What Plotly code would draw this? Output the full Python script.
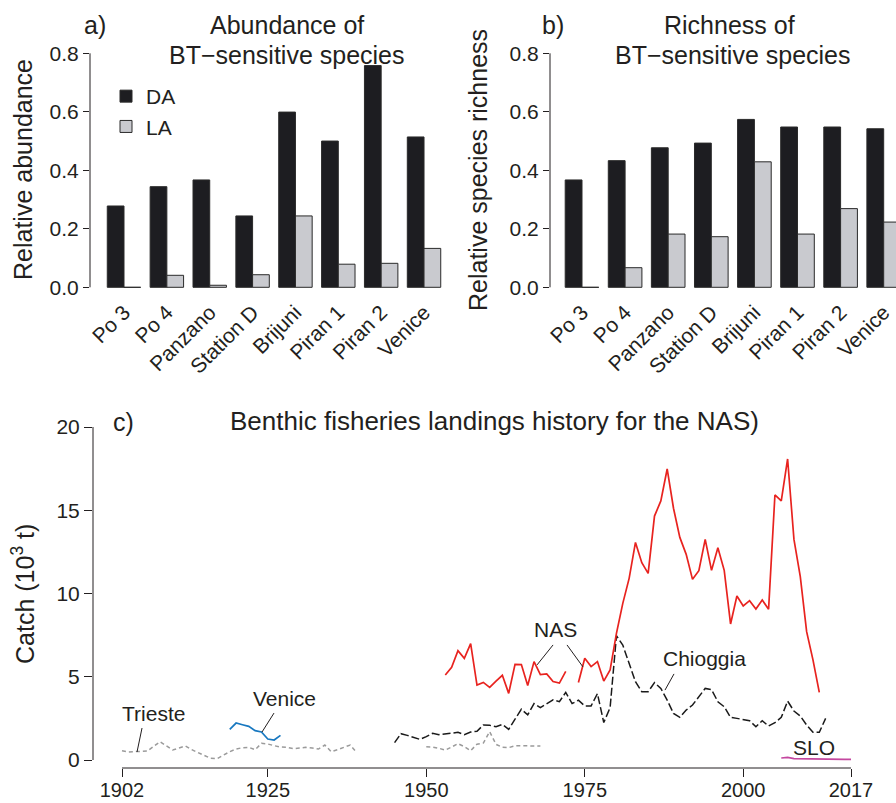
import plotly.graph_objects as go

# ---------------- data ----------------
sites = ["Po 3", "Po 4", "Panzano", "Station D", "Brijuni", "Piran 1", "Piran 2", "Venice"]
abund_DA = [0.278, 0.344, 0.367, 0.244, 0.599, 0.500, 0.758, 0.514]
abund_LA = [0.0, 0.041, 0.007, 0.043, 0.244, 0.079, 0.082, 0.133]
rich_DA = [0.367, 0.433, 0.477, 0.493, 0.574, 0.548, 0.548, 0.542]
rich_LA = [0.0, 0.067, 0.182, 0.173, 0.429, 0.182, 0.269, 0.223]

nas_years = list(range(1953, 2013))
nas_vals = [5.11, 5.57, 6.57, 6.11, 6.99, 4.50, 4.66, 4.36, 4.74, 5.09,
            4.00, 5.74, 5.73, 4.48, 5.91, 5.13, 5.17, 4.71, 4.62, 5.32,
            None, 4.65, 6.11, 5.61, 5.91, 4.74, 5.41,
            7.61, 9.41, 10.91, 13.07, 11.85, 11.21, 14.65, 15.56, 17.48, 15.12,
            13.37, 12.35, 10.85, 11.37, 13.25, 11.39, 12.75, 11.39, 8.17, 9.85,
            9.25, 9.57, 9.07, 9.61, 9.05, 15.92, 15.56, 18.08, 13.25, 11.01,
            7.71, 6.01, 4.06]

chi_years = list(range(1945, 2014))
chi_vals = [1.04, 1.58, 1.48, 1.35, 1.24, 1.40, 1.60, 1.52, 1.58, 1.62,
            1.66, 1.52, 1.68, 1.73, 2.10, 2.08, 2.00, 2.14, 1.84, 2.45,
            3.05, 2.71, 3.39, 3.15, 3.40, 3.61, 3.50, 4.06, 3.39, 3.59,
            3.25, 3.25, 3.99, 2.25, 3.15, 7.46,
            6.90, 5.80, 4.70, 4.10, 4.10, 4.65, 4.30, 3.60, 2.80, 2.56,
            3.00, 3.30, 3.80, 4.30, 4.22, 3.50, 3.20, 2.56, 2.50, 2.45,
            2.36, 2.00, 2.36, 2.04, 2.24, 2.56, 3.54, 2.94, 2.64, 2.10,
            1.66, 1.66, 2.50]

tri_years = list(range(1902, 1969))
tri_vals = [0.56, 0.48, 0.50, 0.52, 0.54, 0.82, 1.10, 0.85, 0.60, 0.72,
            0.84, 0.62, 0.46, 0.30, 0.10, 0.08, 0.30, 0.50, 0.66, 0.74,
            0.76, 0.62, 1.00, 0.96, 0.86, 0.78, 0.76, 0.68, 0.72, 0.76,
            0.72, 0.66, 0.90, 0.50, 0.62, 0.76, 0.90, 0.46,
            None, None, None, None, None, None, None, None, None, None,
            0.80, 0.78, 0.70, 0.60, 0.78, 0.98, 0.80, 0.56, 0.95, 1.02,
            1.70, 0.94, 0.76, 0.74, 0.86, 0.86, 0.84, 0.84, 0.84]

ven_years = list(range(1919, 1928))
ven_vals = [1.84, 2.22, 2.12, 2.02, 1.76, 1.68, 1.26, 1.20, 1.48]

slo_years = list(range(2006, 2018))
slo_vals = [0.12, 0.16, 0.08, 0.07, 0.07, 0.06, 0.06, 0.06, 0.05, 0.05, 0.04, 0.04]

xticks_c = [1902, 1925, 1950, 1975, 2000, 2017]
yticks_c = [0, 5, 10, 15, 20]
yticks_ab = [0.0, 0.2, 0.4, 0.6, 0.8]

labels_c = ["Trieste", "Venice", "NAS", "Chioggia", "SLO"]
label_x = [1906.94, 1927.59, 1970.43, 1993.84, 2011.13]
label_y = [2.80, 3.68, 7.85, 6.07, 0.78]
leaders = [((1905.16, 1.92), (1904.37, 0.48)),
           ((1925.98, 2.82), (1924.09, 1.68)),
           ((1970.0, 6.91), (1967.47, 5.71)),
           ((1972.2, 6.91), (1974.72, 5.59)),
           ((1989.08, 5.17), (1987.66, 4.20))]

# ---------------- style ----------------
W, H = 896, 803
FONT = "Liberation Sans, Arial, Helvetica, sans-serif"
TXT = "#231f20"
DA_COL = "#1d1d21"
LA_COL = "#c9cacf"
EDGE = "#2a2a2a"

def px(x):
    return x / W

def py(y):
    return 1 - y / H

fig = go.Figure()

for xa, ya, da, la, show in [("x", "y", abund_DA, abund_LA, True),
                             ("x2", "y2", rich_DA, rich_LA, False)]:
    fig.add_trace(go.Bar(x=sites, y=da, name="DA", xaxis=xa, yaxis=ya,
                         marker=dict(color=DA_COL, line=dict(color=EDGE, width=1)),
                         showlegend=show))
    fig.add_trace(go.Bar(x=sites, y=la, name="LA", xaxis=xa, yaxis=ya,
                         marker=dict(color=LA_COL, line=dict(color=EDGE, width=1)),
                         showlegend=show))

fig.add_trace(go.Scatter(x=tri_years, y=tri_vals, mode="lines", xaxis="x3", yaxis="y3",
                         line=dict(color="#9b9b9b", width=1.5, dash="4px,3px"), showlegend=False))
fig.add_trace(go.Scatter(x=ven_years, y=ven_vals, mode="lines", xaxis="x3", yaxis="y3",
                         line=dict(color="#1878c0", width=1.7), showlegend=False))
fig.add_trace(go.Scatter(x=chi_years, y=chi_vals, mode="lines", xaxis="x3", yaxis="y3",
                         line=dict(color="#1a1a1a", width=1.5, dash="8px,3px"), showlegend=False))
fig.add_trace(go.Scatter(x=nas_years, y=nas_vals, mode="lines", xaxis="x3", yaxis="y3",
                         line=dict(color="#e8231f", width=1.7), showlegend=False))
fig.add_trace(go.Scatter(x=slo_years, y=slo_vals, mode="lines", xaxis="x3", yaxis="y3",
                         line=dict(color="#c4479f", width=1.7), showlegend=False))

tickfont = dict(family=FONT, size=21, color=TXT)

ab_y_top, ab_y_bot = 45, 295
zero_px, unit_px = 287.3, 292.5
yr_ab = [(zero_px - ab_y_bot) / unit_px, (zero_px - ab_y_top) / unit_px]

pitch_a, c0_a = 42.86, 124
pitch_b, c0_b = 43.1, 582

common_cat = dict(type="category", categoryorder="array", categoryarray=sites,
                  showline=False, showgrid=False, zeroline=False, automargin=False,
                  ticks="", tickangle=-45, tickfont=tickfont)
common_y = dict(showline=False, showgrid=False, zeroline=False, ticks="outside",
                ticklen=6, tickwidth=1, tickcolor=TXT, tickvals=yticks_ab, automargin=False,
                tickformat=".1f", tickfont=tickfont, range=yr_ab)

fig.update_layout(
    width=W, height=H, margin=dict(l=0, r=0, t=0, b=0, pad=0, autoexpand=False),
    paper_bgcolor="white", plot_bgcolor="white",
    font=dict(family=FONT, color=TXT),
    barmode="group", bargap=0.22, bargroupgap=0,
    xaxis=dict(domain=[px(90), px(445)],
               range=[(90 - c0_a) / pitch_a, (445 - c0_a) / pitch_a],
               anchor="y", **common_cat),
    yaxis=dict(domain=[py(ab_y_bot), py(ab_y_top)], anchor="x", **common_y),
    xaxis2=dict(domain=[px(550), 1.0],
                range=[(550 - c0_b) / pitch_b, (896 - c0_b) / pitch_b],
                anchor="y2", **common_cat),
    yaxis2=dict(domain=[py(ab_y_bot), py(ab_y_top)], anchor="x2", **common_y),
    xaxis3=dict(domain=[px(93), px(860)],
                range=[1902 - 29 / 6.339, 2017 + 9 / 6.339],
                anchor="y3", showline=False, showgrid=False, zeroline=False, automargin=False,
                ticks="outside", ticklen=8, tickwidth=1, tickcolor=TXT,
                ticklabelstandoff=-4,
                tickvals=xticks_c, tickfont=dict(family=FONT, size=20, color=TXT)),
    yaxis3=dict(domain=[py(768), py(420)],
                range=[(760 - 768) / 16.65, (760 - 420) / 16.65],
                anchor="x3", showline=False, showgrid=False, zeroline=False, automargin=False,
                ticks="outside", ticklen=8, tickwidth=1, tickcolor=TXT,
                tickvals=yticks_c, tickfont=tickfont),
    legend=dict(x=px(106), y=py(76), xanchor="left", yanchor="top",
                bgcolor="rgba(0,0,0,0)", font=dict(family=FONT, size=21, color=TXT)),
)

shapes = [
    dict(type="line", xref="x domain", yref="y", x0=0, x1=0, y0=0, y1=0.8,
         line=dict(color=TXT, width=1)),
    dict(type="line", xref="x2 domain", yref="y2", x0=0, x1=0, y0=0, y1=0.8,
         line=dict(color=TXT, width=1)),
    dict(type="line", xref="x3 domain", yref="y3", x0=0, x1=0, y0=0, y1=20,
         line=dict(color=TXT, width=1)),
    dict(type="line", xref="x3", yref="y3 domain", x0=1902, x1=2017, y0=0, y1=0,
         line=dict(color=TXT, width=1)),
]
for (p0, p1) in leaders:
    shapes.append(dict(type="line", xref="x3", yref="y3", x0=p0[0], y0=p0[1],
                       x1=p1[0], y1=p1[1], line=dict(color=TXT, width=1)))
fig.update_layout(shapes=shapes)

ann = []
def add_text(text, x, y, size=25, xanchor="center", angle=0):
    ann.append(dict(text=text, x=px(x), y=py(y), xref="paper", yref="paper",
                    showarrow=False, xanchor=xanchor, yanchor="middle",
                    textangle=angle, font=dict(family=FONT, size=size, color=TXT)))

add_text("a)", 82, 25, xanchor="left")
add_text("Abundance of", 287, 24.7)
add_text("BT\u2212sensitive species", 286.7, 54.7)
add_text("b)", 540, 25, xanchor="left")
add_text("Richness of", 729.3, 25)
add_text("BT\u2212sensitive species", 733, 55)
add_text("c)", 111, 421.7, xanchor="left")
add_text("Benthic fisheries landings history for the NAS)", 494, 420.5, size=26)
add_text("Relative abundance", 23, 170, angle=-90)
add_text("Relative species richness", 478, 170, angle=-90)
add_text("Catch (10<sup>3</sup> t)", 23, 594, angle=-90)

for t, xv, yv in zip(labels_c, label_x, label_y):
    ann.append(dict(text=t, x=xv, y=yv, xref="x3", yref="y3", showarrow=False,
                    xanchor="center", yanchor="middle",
                    font=dict(family=FONT, size=21, color=TXT)))
fig.update_layout(annotations=ann)

fig.write_html("out.html")
